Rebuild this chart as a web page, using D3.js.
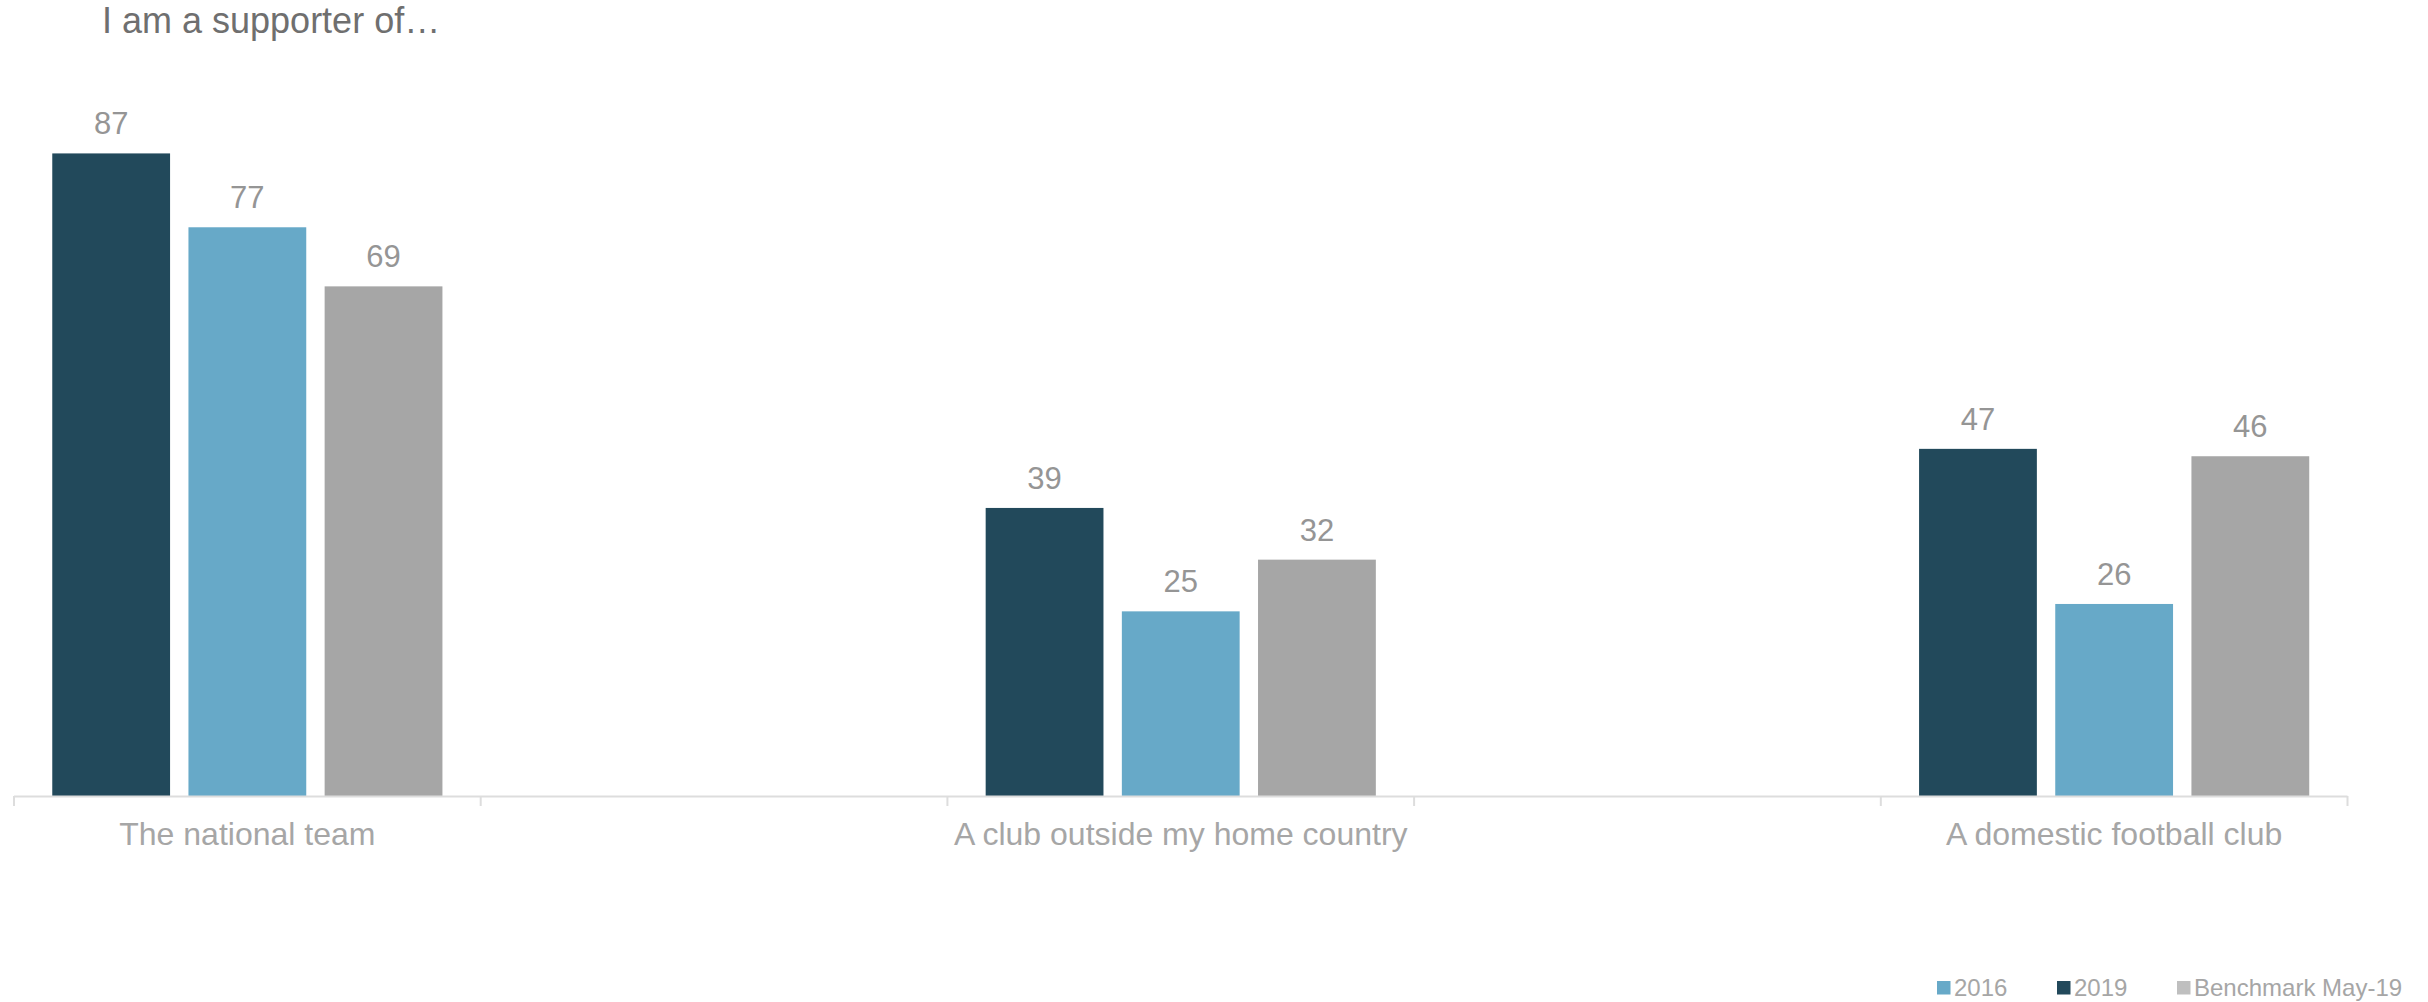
<!DOCTYPE html>
<html>
<head>
<meta charset="utf-8">
<script src="https://cdn.jsdelivr.net/npm/d3@7"></script>
<style>
  html, body { margin: 0; padding: 0; background: #fff; }
  svg { display: block; font-family: "Liberation Sans", Arial, sans-serif; }
</style>
</head>
<body>
<svg id="chart" width="2428" height="1002"></svg>
<script>
const title = "I am a supporter of…";
const categories = ["The national team", "A club outside my home country", "A domestic football club"];
const slotLabels = ["The national team", "", "A club outside my home country", "", "A domestic football club"];
const categorySlots = [0, 2, 4];
const seriesNames = ["2019", "2016", "Benchmark May-19"];
const values2019 = [87, 39, 47];
const values2016 = [77, 25, 26];
const valuesBenchmark = [69, 32, 46];
const legendOrder = ["2016", "2019", "Benchmark May-19"];

const barColors = {"2019": "#22495B", "2016": "#67A9C8", "Benchmark May-19": "#A6A6A6"};
const legendColors = {"2019": "#22495B", "2016": "#67A9C8", "Benchmark May-19": "#BFBFBF"};

const seriesValues = {"2019": values2019, "2016": values2016, "Benchmark May-19": valuesBenchmark};

const svg = d3.select("#chart");
const axisY = 796, left = 14, right = 2347.5;

const x0 = d3.scaleBand().domain(d3.range(slotLabels.length)).range([left, right]).padding(0);
const bw = x0.bandwidth();
const x1 = d3.scaleBand().domain(seriesNames).range([bw * 0.082, bw * 0.918]).paddingInner(0.135).paddingOuter(0);
const y = d3.scaleLinear().domain([0, 100]).range([axisY, 57.4]);

// title
svg.append("text").attr("x", 102).attr("y", 33)
  .attr("font-size", 36).attr("fill", "#6F6F6F").text(title);

// bars
const groups = svg.append("g").selectAll("g")
  .data(categories.map((c, i) => ({c, i, slot: categorySlots[i]})))
  .join("g")
  .attr("transform", d => `translate(${x0(d.slot)},0)`);

groups.selectAll("rect")
  .data(d => seriesNames.map(s => ({s, v: seriesValues[s][d.i]})))
  .join("rect")
  .attr("x", d => x1(d.s))
  .attr("width", x1.bandwidth())
  .attr("y", d => y(d.v))
  .attr("height", d => y(0) - y(d.v))
  .attr("fill", d => barColors[d.s]);

groups.selectAll("text.val")
  .data(d => seriesNames.map(s => ({s, v: seriesValues[s][d.i]})))
  .join("text")
  .attr("class", "val")
  .attr("x", d => x1(d.s) + x1.bandwidth() / 2)
  .attr("y", d => y(d.v) - 19)
  .attr("text-anchor", "middle")
  .attr("font-size", 31)
  .attr("fill", "#959595")
  .text(d => d.v);

// x axis
const xAxis = d3.axisBottom(x0).tickFormat(i => slotLabels[i]).tickSize(0).tickPadding(0);
const ax = svg.append("g").attr("transform", `translate(0,${axisY})`).call(xAxis);
ax.select(".domain").remove();
ax.selectAll(".tick line").remove();
ax.selectAll(".tick text")
  .attr("y", 49).attr("dy", 0)
  .attr("font-size", 32).attr("fill", "#A6A6A6")
  .attr("font-family", "Liberation Sans, Arial, sans-serif");
// baseline and boundary ticks
svg.append("line").attr("x1", left).attr("x2", right).attr("y1", axisY + 0.5).attr("y2", axisY + 0.5)
  .attr("stroke", "#DDDDDD").attr("stroke-width", 2);
const bounds = d3.range(slotLabels.length + 1).map(i => left + i * bw);
svg.append("g").selectAll("line").data(bounds).join("line")
  .attr("x1", d => d).attr("x2", d => d)
  .attr("y1", axisY).attr("y2", axisY + 10)
  .attr("stroke", "#DDDDDD").attr("stroke-width", 2);

// legend
const legendX = [1937, 2057, 2177];
const lg = svg.append("g").selectAll("g").data(legendOrder).join("g")
  .attr("transform", (d, i) => `translate(${legendX[i]},981)`);
lg.append("rect").attr("width", 13.5).attr("height", 13.5).attr("fill", d => legendColors[d]);
lg.append("text").attr("x", 17).attr("y", 14.7).attr("font-size", 24).attr("fill", "#A6A6A6").text(d => d);
</script>
</body>
</html>
